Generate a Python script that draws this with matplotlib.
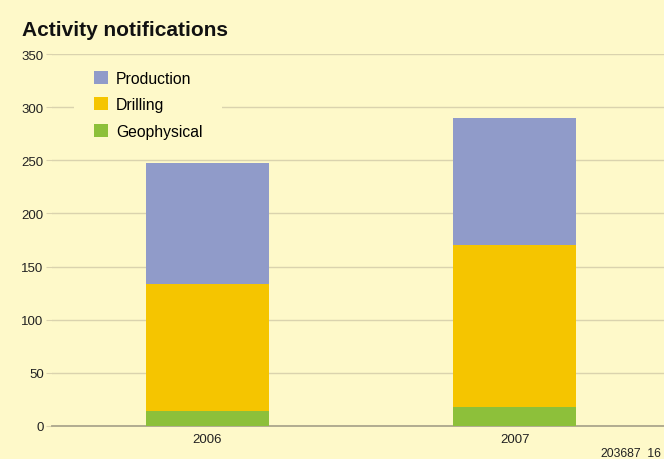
import matplotlib.pyplot as plt
from matplotlib.patches import Rectangle
import numpy as np

years = ["2006", "2007"]
geophysical = [14, 18]
drilling = [120, 152]
production = [113, 120]

BG = "#FEF9C9"
GRID = "#DAD3AE"

plt.rcParams["font.family"] = ["Liberation Sans", "DejaVu Sans"]

W, H = 664, 460
fig = plt.figure(figsize=(W / 100, H / 100), dpi=100, facecolor=BG)
ax = fig.add_axes([52 / W, 1 - 427 / H, 1 - 52 / W, (427 - 55) / H])
ax.set_facecolor(BG)

x = np.arange(len(years))
w = 0.4
geo = np.array(geophysical)
dri = np.array(drilling)
pro = np.array(production)

b1 = ax.bar(x, geo, w, color="#8DC03A", label="Geophysical", zorder=3)
b2 = ax.bar(x, dri, w, bottom=geo, color="#F5C500", label="Drilling", zorder=3)
b3 = ax.bar(x, pro, w, bottom=geo + dri, color="#909BC9", label="Production", zorder=3)

ax.set_ylim(0, 350)
ax.set_xlim(-0.505, 1.485)
ax.set_yticks(range(0, 351, 50))
ax.set_xticks(x)
ax.set_xticklabels(years)
ax.yaxis.grid(True, color=GRID, linewidth=1, zorder=0)
ax.set_axisbelow(True)

for s in ["top", "right", "left"]:
    ax.spines[s].set_visible(False)
ax.spines["bottom"].set_color("#ABA68C")
ax.spines["bottom"].set_linewidth(1.3)

ax.tick_params(axis="y", length=4, color=GRID, labelsize=9.5, labelcolor="#222222", pad=2)
ax.tick_params(axis="x", length=0, labelsize=9.5, labelcolor="#222222", pad=5)

# plain panel behind the legend so the gridline is hidden there
ax.add_patch(Rectangle((74 / W, 1 - 145 / H), (222 - 74) / W, (145 - 62) / H,
                       transform=fig.transFigure, facecolor=BG, edgecolor="none",
                       zorder=2, clip_on=False))

leg = ax.legend(handles=[b3, b2, b1], loc="upper left",
                bbox_to_anchor=(83 / W, 1 - 61 / H), bbox_transform=fig.transFigure,
                frameon=False, fontsize=11.3, handlelength=0.9, handleheight=0.9,
                handletextpad=0.5, labelspacing=0.72, borderpad=0.2)
leg.set_zorder(5)

fig.text(22 / W, 1 - 30 / H, "Activity notifications", fontsize=15, fontweight="bold",
         va="center", ha="left", color="#111111")
fig.text(600 / W, 1 - 453 / H, "203687_16", fontsize=8.7, va="center", ha="left",
         color="#222222")

fig.savefig("out.png", dpi=100, facecolor=BG)
